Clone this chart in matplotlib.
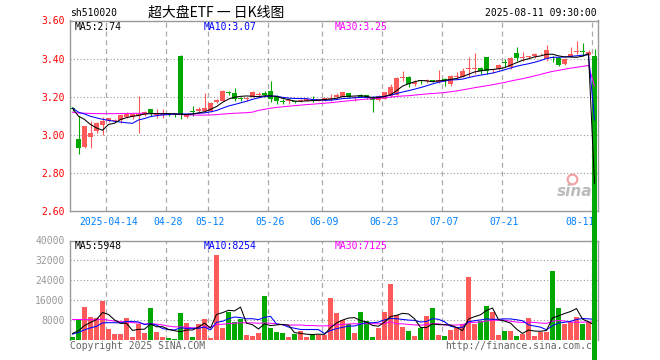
import numpy as np
import pandas as pd
import matplotlib
matplotlib.use("Agg")
import matplotlib.pyplot as plt

# daily bars 2025-04-03 .. 2025-08-11
opens = [3.14, 2.98, 2.935, 2.986, 3.018, 3.053, 3.074, 3.07, 3.077, 3.091,
         3.091, 3.100, 3.105, 3.133, 3.106, 3.105, 3.11, 3.112, 3.416, 3.091,
         3.125, 3.123, 3.123, 3.123, 3.170, 3.179, 3.225, 3.218, 3.19, 3.189,
         3.20, 3.209, 3.218, 3.228, 3.196, 3.176, 3.177, 3.179, 3.178, 3.179,
         3.181, 3.179, 3.179, 3.189, 3.196, 3.20, 3.218, 3.195, 3.21, 3.207,
         3.196, 3.182, 3.188, 3.205, 3.211, 3.300, 3.302, 3.267, 3.286, 3.283,
         3.286, 3.275, 3.289, 3.267, 3.305, 3.305, 3.347, 3.347, 3.349, 3.407,
         3.339, 3.346, 3.381, 3.354, 3.428, 3.402, 3.409, 3.414, 3.427, 3.398,
         3.409, 3.404, 3.372, 3.412, 3.435, 3.438, 3.421, 3.416]
closes = [3.135, 2.933, 3.045, 3.007, 3.06, 3.074, 3.086, 3.077, 3.104, 3.109,
          3.109, 3.109, 3.118, 3.109, 3.112, 3.109, 3.107, 3.108, 3.104, 3.105,
          3.122, 3.135, 3.139, 3.165, 3.181, 3.232, 3.220, 3.188, 3.188, 3.192,
          3.223, 3.211, 3.209, 3.188, 3.175, 3.173, 3.180, 3.170, 3.180, 3.188,
          3.179, 3.188, 3.191, 3.192, 3.209, 3.223, 3.196, 3.197, 3.20, 3.193,
          3.182, 3.205, 3.223, 3.249, 3.298, 3.302, 3.267, 3.276, 3.283, 3.286,
          3.283, 3.289, 3.286, 3.311, 3.308, 3.333, 3.349, 3.349, 3.337, 3.337,
          3.342, 3.368, 3.378, 3.402, 3.402, 3.404, 3.411, 3.425, 3.428, 3.446,
          3.405, 3.368, 3.398, 3.425, 3.437, 3.435, 3.433, 0.0]
highs = [3.145, 3.10, 3.048, 3.07, 3.065, 3.091, 3.09, 3.082, 3.11, 3.118,
         3.114, 3.205, 3.126, 3.135, 3.135, 3.135, 3.112, 3.116, 3.419, 3.108,
         3.153, 3.144, 3.218, 3.17, 3.186, 3.237, 3.23, 3.246, 3.2, 3.2,
         3.228, 3.223, 3.232, 3.281, 3.21, 3.188, 3.188, 3.18, 3.188, 3.19,
         3.205, 3.19, 3.195, 3.214, 3.218, 3.225, 3.22, 3.205, 3.212, 3.21,
         3.205, 3.21, 3.226, 3.267, 3.302, 3.337, 3.311, 3.288, 3.29, 3.295,
         3.29, 3.34, 3.297, 3.316, 3.33, 3.35, 3.407, 3.428, 3.358, 3.407,
         3.346, 3.372, 3.396, 3.407, 3.46, 3.435, 3.416, 3.432, 3.432, 3.474,
         3.416, 3.407, 3.402, 3.46, 3.495, 3.481, 3.445, 3.45]
lows = [3.125, 2.898, 2.93, 2.933, 3.009, 3.0, 3.065, 3.065, 3.063, 3.086,
        3.083, 3.012, 3.100, 3.10, 3.09, 3.09, 3.098, 3.094, 3.083, 3.088,
        3.10, 3.118, 3.118, 3.118, 3.165, 3.175, 3.208, 3.175, 3.176, 3.179,
        3.196, 3.196, 3.197, 3.17, 3.16, 3.16, 3.16, 3.165, 3.172, 3.175,
        3.172, 3.176, 3.176, 3.178, 3.19, 3.198, 3.192, 3.179, 3.196, 3.19,
        3.118, 3.175, 3.186, 3.198, 3.207, 3.284, 3.249, 3.258, 3.267, 3.272,
        3.275, 3.27, 3.256, 3.258, 3.293, 3.302, 3.302, 3.319, 3.319, 3.319,
        3.326, 3.342, 3.354, 3.346, 3.388, 3.39, 3.40, 3.405, 3.42, 3.386,
        3.381, 3.363, 3.368, 3.409, 3.425, 3.416, 3.419, 0.0]
volumes = [1333, 8400, 13333, 9333, 8667, 15600, 4400, 2400, 2400, 8800,
           1200, 6533, 2800, 12800, 3333, 1333, 800, 400, 10800, 6800,
           1333, 6533, 8400, 933, 34133, 4933, 11333, 7200, 8533, 1867,
           1733, 2800, 17600, 4933, 3200, 2800, 1333, 2533, 3600, 1333,
           2133, 2133, 2133, 16933, 10800, 8000, 6267, 2933, 11200, 7600,
           1200, 4800, 11200, 22400, 9867, 5333, 3600, 1600, 4800, 9600,
           12800, 2000, 1600, 4000, 4800, 6400, 25333, 6400, 7733, 13600,
           11200, 2000, 3600, 3600, 1600, 2400, 8800, 1600, 3200, 3200,
           27600, 12800, 6400, 7200, 9200, 6400, 7333, 0]

# estimated values before the window, only used to start the moving averages
prior_close = [3.06, 3.07, 3.05, 3.08, 3.09, 3.08, 3.07, 3.09, 3.10, 3.09,
               3.11, 3.12, 3.13, 3.14, 3.15, 3.14, 3.13, 3.15, 3.14, 3.16,
               3.15, 3.14, 3.13, 3.14, 3.15, 3.14, 3.13, 3.14, 3.15]
prior_volume = [9000, 14000, 12000, 8000, 10000, 16000, 13000, 9000, 11000, 12000,
                10000, 15000, 9000, 8000, 12000, 14000, 10000, 11000, 9000, 12000,
                2000, 2400, 1800, 2200, 2200, 3200, 2800, 3000, 2900]

date_ticks = [6, 16, 23, 33, 42, 52, 62, 72, 87]
date_labels = ["2025-04-14", "04-28", "05-12", "05-26", "06-09", "06-23", "07-07", "07-21", "08-11"]
price_ticks = [2.6, 2.8, 3.0, 3.2, 3.4, 3.6]
vol_ticks = [8000, 16000, 24000, 32000, 40000]

RED = "#ff5a5a"
GREEN = "#00a800"
GRID = "#999999"
MONO = "DejaVu Sans Mono"
W, H = 660, 360

o = np.array(opens); c = np.array(closes)
hi = np.array(highs); lo = np.array(lows)
v = np.array(volumes)
xs = np.arange(len(o))
colors = np.where(c >= o, RED, GREEN)


def ma(prior, vals, n):
    s = pd.Series(list(prior) + list(vals)).rolling(n).mean().to_numpy()
    return s[len(prior):]


def rect(l, t, r, b):
    return [l / W, 1 - b / H, (r - l) / W, (b - t) / H]


def px_text(x, y, s, **kw):
    kw.setdefault("family", MONO)
    kw.setdefault("fontsize", 7)
    fig.text(x / W, 1 - y / H, s, va="center", **kw)


fig = plt.figure(figsize=(6.6, 3.6), dpi=100)
axv = fig.add_axes(rect(70, 240.5, 598, 340), zorder=1)
axp = fig.add_axes(rect(70, 20.5, 598, 211), zorder=2)
xlim = ((70 - 72.5) / 6, (598 - 72.5) / 6)

# price panel
body_lo = np.minimum(o, c)
body_h = np.maximum(np.abs(c - o), 0.005)
axp.vlines(xs, lo, hi, colors=colors, linewidth=0.8, zorder=3)
bars = axp.bar(xs, body_h, bottom=body_lo, width=0.8, color=colors, linewidth=0, zorder=4)
bars[-1].set_clip_on(False)
for n, col in [(30, "#ff00ff"), (10, "#0000ff"), (5, "black")]:
    axp.plot(xs, ma(prior_close, c, n), color=col, linewidth=0.75, zorder=5)
axp.set_xlim(*xlim)
axp.set_ylim(2.6, 3.6)
axp.set_yticks(price_ticks)
axp.set_yticklabels(["%.2f" % t for t in price_ticks], color="red", family=MONO, fontsize=7)
axp.set_xticks(xs[date_ticks])
axp.set_xticklabels(date_labels, color="#0080ff", family=MONO, fontsize=7)
axp.get_xticklabels()[-1].set_ha("right")
axp.tick_params(length=0, pad=4)
for t in price_ticks[1:-1]:
    axp.axhline(t, color=GRID, linewidth=0.8, linestyle=(0, (1, 2)), zorder=1)

# volume panel
vbars = axv.bar(xs, v, width=0.8, color=colors, linewidth=0, zorder=3)
for n, col in [(30, "#ff00ff"), (10, "#0000ff"), (5, "black")]:
    axv.plot(xs, ma(prior_volume, v, n), color=col, linewidth=0.75, zorder=5)
axv.set_xlim(*xlim)
axv.set_ylim(0, 40000)
axv.set_yticks(vol_ticks)
axv.set_yticklabels([str(t) for t in vol_ticks], color=GRID, family=MONO, fontsize=7)
axv.set_xticks([])
axv.tick_params(length=0, pad=4)
for t in vol_ticks[:-1]:
    axv.axhline(t, color=GRID, linewidth=0.8, linestyle=(0, (1, 2)), zorder=1)
axv.text(0, -0.06, "Copyright 2025 SINA.COM", transform=axv.transAxes, ha="left", va="center",
         family=MONO, fontsize=7, color="#666666", clip_on=False)
axv.text(1.0, -0.06, "http://finance.sina.com.cn", transform=axv.transAxes, ha="right", va="center",
         family=MONO, fontsize=7, color="#666666", clip_on=False)

for ax in (axp, axv):
    for x in date_ticks:
        ax.axvline(x - 0.4, color="#aaaaaa", linewidth=0.9, linestyle=(0, (4, 3)), zorder=1)
    for s in ax.spines.values():
        s.set_color(GRID)
        s.set_linewidth(1)
axv.spines["bottom"].set_visible(False)

# sina watermark
axp.text(0.955, 0.10, "sina", transform=axp.transAxes, ha="center", va="center",
         fontsize=11, style="italic", weight="bold", color="#bbbbbb", zorder=2)
axp.plot([0.95], [0.17], transform=axp.transAxes, marker="o", markersize=7, markerfacecolor="none",
         markeredgecolor="#f2a0a0", markeredgewidth=1.5, zorder=2)

px_text(70, 13, "sh510020", color="black")
px_text(216, 13, "超大盘ETF 一 日K线图", ha="center", family=["Noto Sans CJK SC", "DejaVu Sans"],
        fontsize=10, color="black")
px_text(597, 13, "2025-08-11 09:30:00", ha="right", color="black")
px_text(75, 27, "MA5:2.74", color="black")
px_text(204, 27, "MA10:3.07", color="#0000ff")
px_text(335, 27, "MA30:3.25", color="#ff00ff")
px_text(75, 246, "MA5:5948", color="black")
px_text(204, 246, "MA10:8254", color="#0000ff")
px_text(335, 246, "MA30:7125", color="#ff00ff")

fig.savefig("out.png", dpi=100)
